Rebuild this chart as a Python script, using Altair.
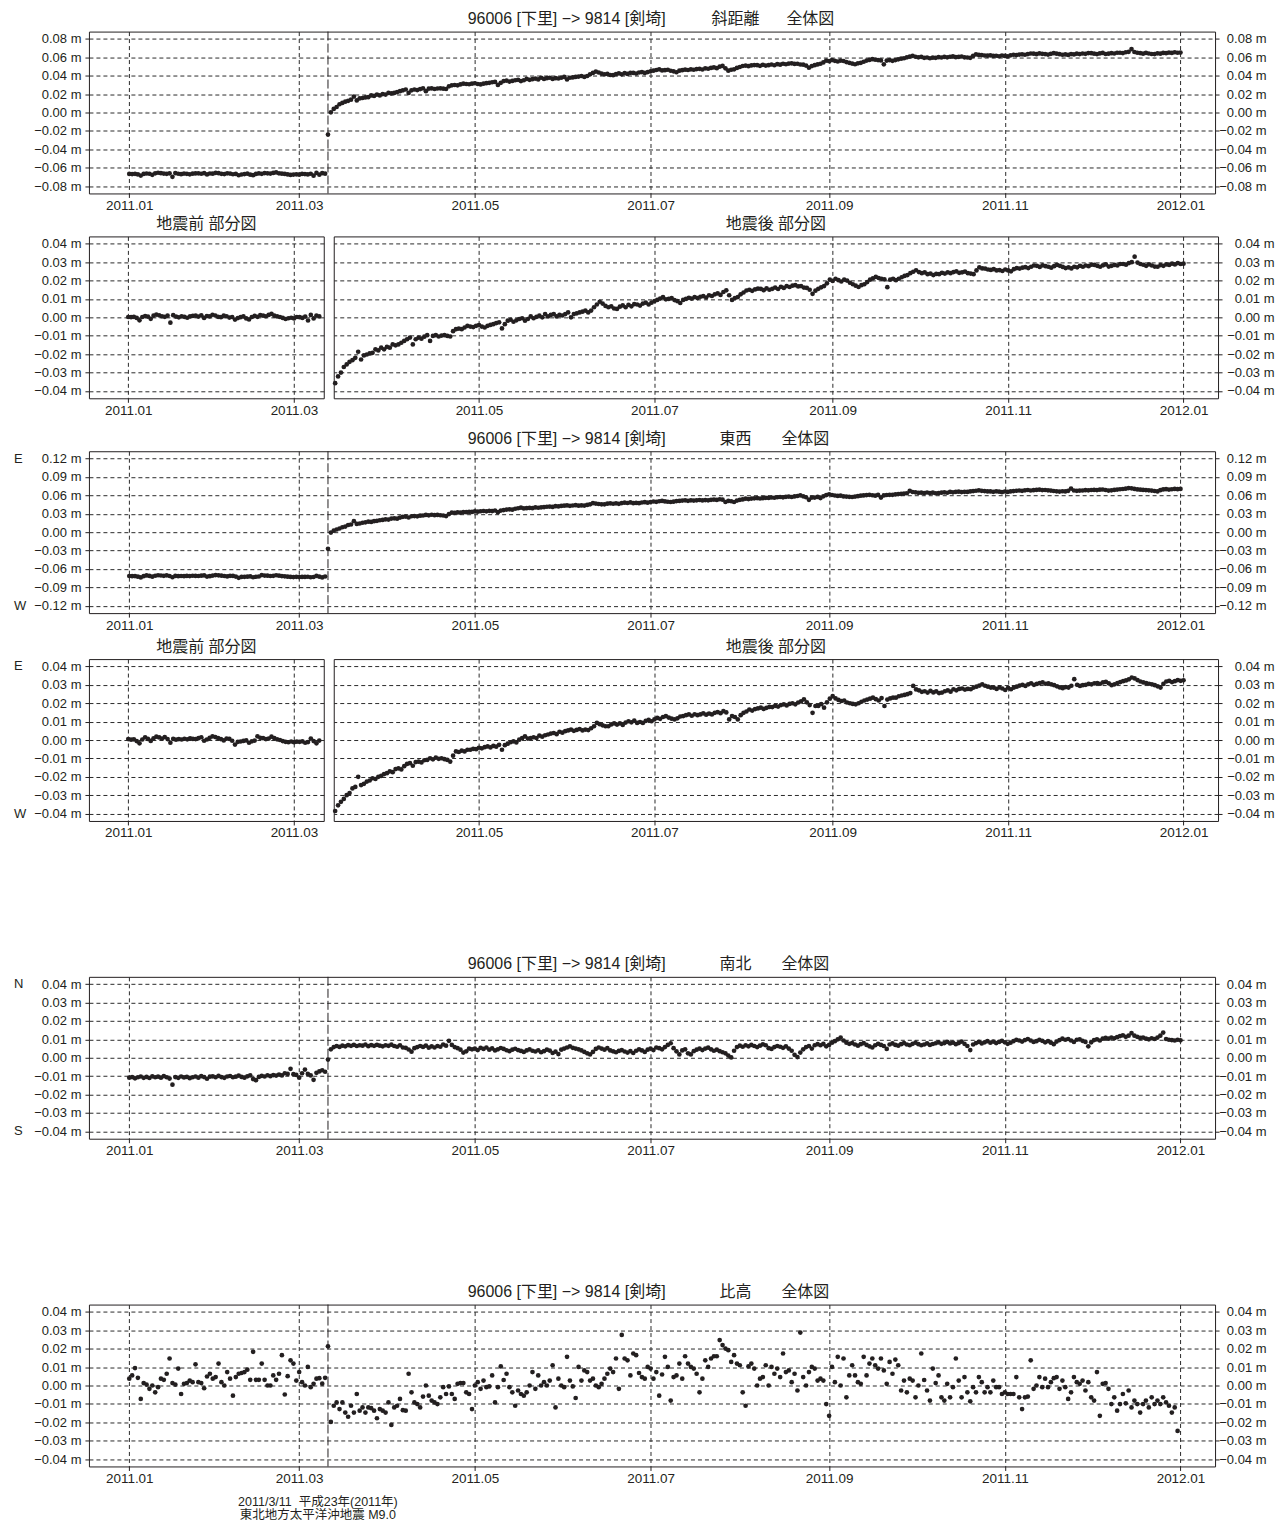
import altair as alt
import pandas as pd

# ---------------- axis / calendar data ----------------
TICK_DAYS = [0, 59, 120, 181, 243, 304, 365]          # days since 2011-01-01
TICK_LABELS = ["2011.01", "2011.03", "2011.05", "2011.07", "2011.09", "2011.11", "2012.01"]
QUAKE_DAY = 69            # 2011-03-11
PRE_START_DAY = 0         # 2011-01-01
POST_START_DAY = 70       # 2011-03-12

Y_TICKS_SLOPE = [0.08, 0.06, 0.04, 0.02, 0.0, -0.02, -0.04, -0.06, -0.08]
Y_TICKS_EW = [0.12, 0.09, 0.06, 0.03, 0.0, -0.03, -0.06, -0.09, -0.12]
Y_TICKS_SMALL = [0.04, 0.03, 0.02, 0.01, 0.0, -0.01, -0.02, -0.03, -0.04]

TITLE_BASELINE = "96006 [下里] −> 9814 [剣埼]"
TITLE_SLOPE = "斜距離"
TITLE_EW = "東西"
TITLE_NS = "南北"
TITLE_UP = "比高"
TITLE_WHOLE = "全体図"
TITLE_PRE = "地震前 部分図"
TITLE_POST = "地震後 部分図"
FOOTER_TEXT = "2011/3/11\u00a0 平成23年(2011年)\n東北地方太平洋沖地震 M9.0"

# ---------------- series values (mm) ----------------
# slope distance, relative to pre-quake level (2011-01-01 .. 2011-03-10)
SLOPE_PRE = [0.2, 0.1, 0.3, -0.3, -1.6, 0.2, 0.7, 0.4, -0.8, 0.9,
             1.5, 1.1, 0.6, 0.3, 0.9, -2.9, 1.2, 0.4, 0.0, 0.6,
             0.3, -0.2, 0.5, 0.8, 0.9, 0.4, 1.1, -0.3, 0.7, 0.5, 1.4,
             1.0, 0.3, 0.1, 0.9, 0.6, -0.1, 0.2, -1.2, -0.4, 0.1,
             0.5, -0.6, -1.1, 0.2, 0.8, 0.3, 1.2, 0.9, 0.6, 1.3,
             1.9, 0.9, 0.5, 0.2, -0.3, -0.9, -0.5, -0.2,
             -0.6, 0.2, 0.1, -0.3, 0.4, -1.7, 1.3, -0.6, 1.0, 0.5]
# slope distance, post-quake partial view (2011-03-12 .. 2012-01-01)
SLOPE_POST = [-35.8, -32.1, -30.0, -27.0, -25.6, -24.2, -23.3, -22.0, -18.7, -22.9,
              -20.7, -20.2, -19.6, -19.3, -17.4, -18.0, -16.5, -17.4, -16.0, -16.5,
              -14.7, -15.2, -14.7, -13.8, -12.8, -11.9, -11.0, -14.7, -11.9, -11.0,
              -11.6, -10.5, -9.7, -12.8, -10.1, -9.7, -10.4, -9.9, -9.7, -10.1,
              -10.4, -7.5, -6.4, -6.1, -6.4, -5.5, -4.6, -5.0, -5.3, -4.6,
              -4.2, -5.0, -5.5, -4.6, -4.1, -3.7, -3.1, -2.7, -6.0, -3.7,
              -1.8, -1.3, -2.4, -1.6, -0.9, -0.5, -1.8, -0.9, 0.5, -0.5,
              0.3, 0.9, 0.0, 1.8, 0.5, 1.3, 1.8, 0.5, 1.3, 1.0,
              1.8, 2.7, 0.0, 1.8, 2.2, 2.7, 3.1, 3.7, 2.7, 3.7,
              5.5, 7.0, 8.5, 7.5, 6.2, 5.5, 6.0, 4.8, 4.6, 5.8,
              6.5, 5.5, 6.8, 6.0, 7.2, 7.0, 6.4, 7.5, 8.0, 7.0,
              8.0, 8.8, 9.5, 10.2, 11.0, 9.8, 10.0, 10.5, 9.4, 8.8,
              7.8, 9.5, 10.0, 10.6, 10.2, 11.0, 10.5, 11.2, 11.5, 10.8,
              12.0, 11.6, 12.5, 13.0, 12.2, 13.8, 14.7, 12.0, 9.5, 10.5,
              11.0, 12.5, 13.5, 14.6, 15.0, 14.4, 15.2, 15.6, 15.5, 14.8,
              15.8, 15.0, 15.5, 16.2, 15.4, 16.6, 16.0, 17.0, 16.5, 17.2,
              17.5, 16.8, 17.0, 16.2, 16.0, 15.0, 12.8, 14.5, 15.5, 16.3,
              17.0, 18.5, 20.5, 19.8, 21.0, 20.2, 19.5, 20.5, 20.0, 18.8,
              18.0, 17.2, 16.5, 17.5, 18.0, 19.2, 20.5, 21.2, 22.0, 21.4,
              21.0, 20.6, 16.4, 20.5, 21.0, 20.2, 21.0, 21.8, 22.5, 23.0,
              24.0, 24.8, 25.6, 24.6, 24.0, 24.5, 23.5, 23.8, 23.0, 23.6,
              23.5, 24.2, 23.8, 24.5, 24.0, 24.6, 25.0, 24.2, 24.5, 24.9,
              24.0, 23.8, 23.5, 25.5, 27.2, 26.6, 26.5, 26.0, 25.8, 26.2,
              25.5, 25.7, 25.2, 26.0, 25.5, 25.0, 26.2, 26.8, 26.5, 27.0,
              27.3, 26.8, 27.5, 28.2, 28.0, 27.4, 28.3, 27.8, 27.5, 27.0,
              27.8, 28.5, 28.0, 27.4, 26.8, 27.2, 26.6, 27.5, 27.2, 28.0,
              27.5, 28.2, 27.8, 28.6, 28.5, 28.0, 27.5, 28.3, 28.8, 27.6,
              28.0, 28.5, 28.2, 29.0, 29.0, 28.6, 29.5, 30.0, 33.0, 29.8,
              29.0, 28.6, 28.0, 28.8, 28.2, 27.6, 27.5, 28.4, 28.0, 28.8,
              28.5, 29.2, 28.8, 29.5, 29.0, 29.2]
SLOPE_PRE_BASE = -67.0    # full-view level of the pre-quake partial values
SLOPE_POST_BASE = 36.0    # full-view shift of the post-quake partial values
SLOPE_QUAKE = -24.0       # 2011-03-11 solution (full view)

# east-west
EW_PRE = [0.5, 0.2, 0.4, -0.6, -1.8, 0.3, 1.5, 0.6, -0.5, 0.9,
          1.8, 1.4, 0.8, 1.6, 0.5, -1.5, 0.6, 0.2, 0.5, 0.3,
          0.7, 0.4, 0.9, 0.6, 0.5, 1.0, 1.5, -0.4, 0.3, 1.2, 2.0,
          1.6, 1.0, 0.5, -0.2, 0.8, 0.6, -0.4, -2.5, -1.0, -0.8,
          -0.5, -0.2, -1.5, -0.7, -0.3, 2.0, 1.2, 1.0, 0.5, 0.8,
          1.8, 1.0, 0.4, 0.0, -0.6, -1.0, -1.2, -0.8,
          -1.2, -0.9, -1.0, -0.7, -1.5, -1.1, 0.8, -0.6, -1.8, -0.3]
EW_POST = [-38.6, -35.5, -33.6, -32.0, -30.0, -28.8, -26.3, -25.5, -20.0, -24.5,
           -23.8, -22.6, -22.0, -20.8, -21.2, -20.0, -19.5, -18.5, -18.0, -17.0,
           -17.5, -15.8, -15.4, -16.0, -14.2, -13.0, -12.6, -14.0, -12.0, -11.7,
           -12.2, -11.0, -10.8, -9.9, -10.5, -9.6, -10.2, -9.9, -10.4, -10.8,
           -11.7, -8.5, -6.2, -6.5, -5.8, -6.2, -5.3, -5.3, -4.8, -5.0,
           -4.2, -4.5, -3.9, -3.5, -4.0, -3.2, -3.6, -2.6, -5.3, -2.8,
           -2.0, -1.2, -0.7, -1.3, 0.2, 1.0, 2.0, 0.8, 1.1, 1.5,
           1.1, 2.4, 1.8, 2.6, 3.0, 3.5, 3.8, 3.2, 4.5, 4.0,
           4.8, 5.2, 5.7, 5.0, 5.5, 6.0, 5.2, 5.7, 5.4, 6.4,
           7.5, 9.3, 8.6, 8.0, 7.5, 7.5, 8.5, 9.0, 8.4, 9.0,
           8.2, 9.5, 10.2, 9.6, 10.5, 9.3, 9.8, 9.3, 10.4, 11.0,
           10.2, 11.2, 12.0, 11.5, 12.5, 13.0, 12.2, 11.6, 11.2, 11.8,
           12.8, 13.0, 13.5, 13.9, 13.2, 14.0, 13.5, 13.9, 14.5, 13.8,
           14.4, 13.9, 14.8, 15.2, 14.6, 15.7, 15.0, 11.2, 13.0, 12.5,
           11.2, 13.5, 14.8, 15.5, 16.6, 16.0, 16.8, 17.2, 17.6, 16.9,
           17.5, 18.0, 17.9, 18.6, 18.2, 19.0, 19.4, 18.8, 19.6, 20.0,
           19.4, 20.4, 21.0, 22.1, 20.5, 19.0, 14.8, 18.5, 18.5, 19.5,
           17.6, 20.5, 22.5, 23.9, 22.6, 21.8, 21.2, 21.5, 20.4, 20.0,
           19.6, 19.4, 20.0, 20.8, 21.5, 22.0, 22.5, 23.0, 22.2, 21.5,
           22.8, 18.5, 22.0, 22.6, 23.0, 23.0, 23.8, 24.2, 24.5, 24.9,
           25.5, 29.4, 27.5, 27.0, 26.2, 26.5, 25.8, 26.7, 25.9, 26.4,
           25.5, 25.8, 26.5, 27.0, 26.3, 27.6, 27.0, 27.8, 28.0, 27.4,
           27.8, 27.6, 28.5, 29.0, 29.6, 30.3, 29.5, 29.0, 28.5, 28.5,
           27.8, 28.6, 28.0, 27.2, 28.4, 27.6, 28.5, 29.0, 29.6, 30.0,
           29.4, 30.3, 30.8, 30.0, 30.5, 31.0, 31.3, 30.6, 30.8, 30.3,
           29.8, 29.2, 28.6, 28.2, 28.8, 28.5, 29.5, 33.1, 30.0, 29.4,
           29.8, 30.0, 30.5, 30.3, 30.8, 31.0, 30.6, 31.3, 31.6, 30.8,
           29.8, 30.3, 31.0, 31.5, 32.0, 32.4, 33.0, 34.0, 33.5, 32.6,
           31.8, 31.3, 31.0, 30.6, 30.3, 29.8, 29.2, 28.5, 30.5, 31.8,
           32.2, 31.5, 32.0, 32.6, 32.2, 32.5]
EW_PRE_BASE = -72.0
EW_POST_BASE = 38.0
EW_QUAKE = -27.0

# north-south (full view)
NS_PRE = [-10.8, -10.5, -11.2, -10.6, -10.2, -10.9, -10.4, -11.0, -10.1, -10.6,
          -10.3, -10.8, -10.0, -10.6, -11.3, -14.6, -10.5, -10.9, -10.2, -10.7,
          -10.4, -11.1, -10.6, -10.2, -10.8, -10.0, -10.5, -11.4, -10.3, -10.1, -10.6,
          -9.8, -10.5, -10.9, -10.2, -9.9, -10.6, -10.3, -9.7, -10.4, -10.8,
          -10.1, -9.6, -11.6, -12.2, -10.4, -9.8, -10.2, -9.5, -10.0, -9.4,
          -9.7, -9.1, -9.6, -8.4, -8.8, -6.0, -8.9, -9.3,
          -10.8, -8.4, -6.4, -8.8, -9.6, -12.0, -8.2, -7.4, -6.8, -7.6]
NS_POST = [4.6, 5.8, 6.4, 5.9, 6.6, 6.2, 6.9, 6.5, 7.0, 6.4,
           6.8, 6.6, 7.2, 6.3, 6.9, 6.5, 7.0, 6.6, 6.2, 6.8,
           6.5, 7.1, 6.4, 6.0, 6.8, 5.6, 5.4, 4.5, 3.3, 5.2,
           5.8, 6.4, 5.9, 6.6, 5.5, 6.2, 5.6, 6.4, 6.0, 7.2,
           6.6, 9.2, 7.0, 5.8, 5.2, 4.4, 2.8, 3.5, 5.0, 4.6,
           5.0, 4.2, 5.4, 4.8, 5.6, 4.4, 5.1, 4.0, 4.6, 5.3,
           4.8, 4.1, 3.6, 4.4, 4.9, 4.2, 3.7, 3.2, 4.0, 4.6,
           3.8, 3.4, 4.1, 3.0, 3.6, 4.4, 3.9, 2.6, 3.3, 2.0,
           4.4, 5.0, 5.6, 6.2, 5.4, 5.0, 4.6, 4.0, 3.2, 2.4,
           1.8, 3.2, 4.8, 5.6, 5.0, 4.4, 5.2, 4.0, 3.5, 3.0,
           3.7, 4.2, 3.4, 2.8, 3.6, 2.6, 3.8, 4.6, 4.0, 3.2,
           4.4, 5.0, 4.2, 5.6, 5.2, 4.6, 5.8, 7.0, 7.9, 5.2,
           3.5, 1.8, 4.0, 4.6, 2.4, 1.8, 3.6, 4.4, 5.0, 4.2,
           5.0, 5.5, 4.6, 3.8, 4.4, 3.6, 3.0, 2.4, 1.2, 0.2,
           3.8, 5.8, 6.6, 6.0, 6.8, 6.2, 7.0, 6.4, 5.8, 6.6,
           7.3, 6.8, 5.2, 4.8, 5.8, 6.4, 6.0, 5.4, 6.2, 5.0,
           3.8, 1.6, 0.4, 2.8, 4.6, 5.8, 6.4, 5.0, 6.8, 7.4,
           6.8, 7.6, 6.2, 7.0, 8.2, 9.0, 10.0, 11.0, 9.4, 8.2,
           7.6, 8.0, 7.2, 6.6, 7.4, 8.0, 7.0, 6.2, 5.6, 6.8,
           7.6, 7.0, 6.4, 4.8, 7.2, 7.8, 7.0, 6.6, 7.4, 8.0,
           7.2, 6.8, 7.6, 8.2, 7.4, 6.8, 7.2, 7.8, 7.0, 7.5,
           7.9, 8.4, 7.6, 8.0, 8.6, 7.8, 8.2, 7.4, 8.0, 8.8,
           7.6, 6.4, 4.2, 7.2, 8.0, 8.6, 7.8, 8.4, 9.0, 8.2,
           8.8, 8.0, 8.6, 9.2, 8.4, 7.6, 8.2, 9.0, 9.8, 9.4,
           8.8, 9.6, 10.2, 9.4, 8.6, 9.0, 9.8, 9.2, 8.4, 9.0,
           8.2, 7.4, 8.8, 9.6, 10.4, 9.8, 10.2, 9.4, 8.6, 9.8,
           10.0, 9.2, 8.6, 6.2, 8.4, 9.6, 10.0, 9.4, 10.4, 10.8,
           10.4, 11.0, 10.6, 11.2, 11.8, 12.2, 11.4, 12.0, 13.4, 12.0,
           11.4, 10.8, 11.0, 10.4, 10.0, 10.6, 10.2, 11.0, 12.0, 13.7,
           10.2, 9.8, 9.6, 9.4, 9.8, 9.5]
NS_QUAKE = -1.0

# relative height (full view)
UP_PRE = [3.7, 5.5, 9.5, 4.2, -7.3, 1.3, 0.5, -1.8, 0.0, -3.7,
          -0.9, 3.7, 3.1, 6.4, 14.7, 1.3, 0.5, 9.2, -4.6, 0.9,
          1.3, 2.7, 1.8, 11.5, 1.8, 1.3, -1.5, 4.9, 6.4, 3.7,
          4.6, 11.9, 1.8, 0.0, 7.3, 3.7, -5.5, 4.6, 6.4, 6.8,
          7.3, 8.6, 3.1, 18.3, 3.1, 3.1, 11.9, 3.1, 0.0, 0.0,
          5.5, 3.1, 6.4, 16.5, -4.9, 5.1, 13.7, 11.9, 2.7, 7.3,
          1.8, 0.0, 10.1, -0.9, 0.9, 3.7, 4.0, 1.0, 4.2]
UP_POST = [-19.8, -11.0, -9.2, -12.8, -9.2, -14.7, -17.0, -11.0, -14.7, -4.6,
           -13.7, -11.9, -14.7, -11.9, -12.3, -13.7, -17.8, -12.8, -13.7, -14.7,
           -9.2, -21.4, -11.9, -11.0, -7.3, -13.4, -13.7, 6.4, -3.7, -9.2,
           -10.1, -11.9, -6.0, 0.0, -5.5, -8.2, -9.2, -10.1, -6.4, -0.9,
           -4.6, -0.5, -4.6, -7.3, 0.9, 1.3, 1.3, -3.7, -4.6, -12.8,
           0.0, 1.8, -1.8, 2.7, -0.9, -0.5, 5.5, -9.2, -0.9, 10.4,
           3.0, 6.4, -0.9, -3.7, -11.0, -2.7, -4.6, -5.5, -3.7, 0.0,
           7.3, -1.8, 5.5, 0.0, 1.8, 0.0, 2.7, 11.0, -11.9, 3.7,
           0.0, -0.9, 15.6, 2.7, -0.5, -6.8, 10.1, 2.7, 8.2, 7.3,
           2.7, 3.7, 0.0, -0.9, 0.9, 3.7, 6.4, 9.2, 7.3, 14.7,
           -1.8, 27.5, 14.7, 13.7, 5.5, 17.4, 16.5, 6.8, 4.6, 3.7,
           10.1, 9.2, 3.7, 7.3, -5.5, 6.0, 15.6, 10.1, -8.2, 4.6,
           5.5, 11.9, 3.7, 15.9, 11.9, 10.1, 9.2, 6.4, -3.7, 3.7,
           13.7, 10.1, 14.7, 15.9, 15.9, 24.7, 22.0, 20.1, 19.2, 12.8,
           16.5, 11.9, 11.0, -3.7, -11.0, 10.4, 11.9, 9.2, 0.0, 3.7,
           4.6, 11.0, 0.0, 10.1, 6.4, 9.2, 4.6, 17.4, 7.3, 8.2,
           1.8, 6.4, -2.7, 28.8, 4.6, 0.0, 7.3, 10.1, 9.2, 2.7,
           3.7, 2.7, -10.1, -16.5, 10.1, 1.8, 15.6, 0.0, 14.7, -6.4,
           5.5, 11.0, 5.5, 1.8, 0.9, 15.6, 5.5, 11.9, 14.7, 11.0,
           9.2, 14.7, 8.2, 0.9, 12.8, 6.4, 14.1, 11.0, -2.7, 2.7,
           -3.7, 3.7, 2.7, -6.4, 0.0, 17.4, 3.0, -2.7, -8.2, 9.2,
           1.3, 5.5, -6.4, -8.2, 0.9, -6.4, -0.9, 14.7, 2.7, -6.4,
           4.6, -3.7, -8.6, -0.9, -3.7, 4.6, 1.8, -3.7, -0.9, -3.7,
           2.7, -0.9, -0.9, -4.6, -3.7, -4.6, -4.6, -4.6, 4.6, -6.4,
           -12.8, -6.4, -6.0, 13.7, -1.8, 0.0, 4.6, -0.9, 3.7, -0.9,
           1.8, 4.0, 4.6, -1.8, 2.7, -0.9, -7.3, -3.7, 4.6, 1.8,
           0.9, 2.7, -2.7, 1.8, -6.4, -8.2, 7.3, -16.5, 0.9, 1.3,
           -1.8, -10.1, -6.4, -13.7, -10.1, -4.6, -9.7, -2.7, -11.9, -8.2,
           -10.1, -14.7, -10.1, -8.2, -11.9, -6.4, -10.1, -8.2, -10.1, -6.4,
           -9.2, -11.0, -14.7, -11.9, -24.7]
UP_QUAKE = 21.3

# ---------------- styling ----------------
FONT = "Liberation Sans, Noto Sans CJK JP, sans-serif"
INK = "#231f20"
GRID = "#2a2a2a"
H = 162
W_FULL = 1127
W_PRE = 235
W_POST = 885
FULL_DOM = [-14, 377]
PRE_DOM = [-14, 69.6]
POST_DOM = [69.5, 377]
DOM_SLOPE = [-0.088, 0.088]
DOM_EW = [-0.132, 0.132]
DOM_SMALL = [-0.044, 0.044]
FOOTER_DAY = 65.5
TITLE_Y = -12.5


def series(pre, post, pre_base=0.0, post_base=0.0, quake=None):
    rows = [(PRE_START_DAY + i, (v + pre_base) / 1000.0) for i, v in enumerate(pre)]
    if quake is not None:
        rows.append((QUAKE_DAY, quake / 1000.0))
    rows += [(POST_START_DAY + i, (v + post_base) / 1000.0) for i, v in enumerate(post)]
    return pd.DataFrame(rows, columns=["day", "v"])


def make_x(dom):
    vals = [d for d in TICK_DAYS if dom[0] <= d <= dom[1]]
    expr = "''"
    for d, lab in zip(reversed(TICK_DAYS), reversed(TICK_LABELS)):
        expr = f"datum.value == {d} ? '{lab}' : ({expr})"
    ax = alt.Axis(values=vals, labelExpr=expr, title=None, grid=True, gridDash=[4, 3],
                  gridColor=GRID, gridWidth=1, domain=False, ticks=True, tickSize=4,
                  tickColor=INK, labelPadding=1, labelFontSize=13.5, labelColor=INK,
                  labelFont=FONT, labelFlush=False, labelOverlap=False)
    return alt.X("day:Q", scale=alt.Scale(domain=dom, nice=False, zero=False), axis=ax)


YEXPR = "(datum.value < 0 ? '\u2212' : '') + format(abs(datum.value), '.2f') + ' m'"


def make_y(dom, ticks, orient, grid, right_pad=47):
    pad = 4 if orient == "left" else right_pad
    ax = alt.Axis(values=ticks, orient=orient, labelExpr=YEXPR, title=None, grid=grid,
                  gridDash=[4, 3], gridColor=GRID, gridWidth=1, domain=False,
                  ticks=True, tickSize=4, tickColor=INK, labelPadding=pad,
                  labelAlign="right", labelFontSize=13, labelColor=INK, labelFont=FONT,
                  labelFlush=False, labelOverlap=False)
    return alt.Y("v:Q", scale=alt.Scale(domain=dom, nice=False, zero=False), axis=ax)


ONE = pd.DataFrame({"a": [0]})


def text_at(txt, x, align, size=16):
    return (alt.Chart(ONE).mark_text(align=align, baseline="middle", fontSize=size,
                                     font=FONT, color=INK)
            .encode(x=alt.value(x), y=alt.value(TITLE_Y), text=alt.value(txt)))


def panel(df, width, xdom, ydom, yticks, titles, left=True, right=True, quake=False,
          letters=None, bottom_gap=None, footer=False, right_pad=47):
    X = make_x(xdom)
    layers = []
    if left:
        layers.append(alt.Chart(df).mark_circle(size=22, color=INK, opacity=1)
                      .encode(x=X, y=make_y(ydom, yticks, "left", True)))
        if right:
            layers.append(alt.Chart(df).mark_circle(size=22, color=INK, opacity=0)
                          .encode(x=X, y=make_y(ydom, yticks, "right", False, right_pad)))
    else:
        layers.append(alt.Chart(df).mark_circle(size=22, color=INK, opacity=1)
                      .encode(x=X, y=make_y(ydom, yticks, "right", True, right_pad)))
    if quake:
        layers.append(alt.Chart(pd.DataFrame({"day": [QUAKE_DAY]}))
                      .mark_rule(color=INK, strokeDash=[9, 3], strokeWidth=1)
                      .encode(x=X))
    if letters:
        ldf = pd.DataFrame({"v": [yticks[0], yticks[-1]], "t": letters})
        layers.append(alt.Chart(ldf).mark_text(align="left", baseline="middle", fontSize=13,
                                               font=FONT, color=INK)
                      .encode(x=alt.value(-75),
                              y=alt.Y("v:Q", scale=alt.Scale(domain=ydom, nice=False, zero=False), axis=None),
                              text="t:N"))
    for txt, x, align in titles:
        layers.append(text_at(txt, x, align))
    if bottom_gap:
        layers.append(alt.Chart(ONE).mark_rule(color="transparent")
                      .encode(x=alt.value(0), y=alt.value(H), y2=alt.value(H + bottom_gap)))
    if footer:
        layers.append(alt.Chart(pd.DataFrame({"day": [FOOTER_DAY], "t": [FOOTER_TEXT]}))
                      .mark_text(lineBreak="\n", align="center", baseline="top", fontSize=12.5,
                                 lineHeight=13, font=FONT, color=INK)
                      .encode(x=X, y=alt.value(H + 30), text="t:N"))
    ch = alt.layer(*layers).properties(width=width, height=H)
    if (left and right) or letters:
        ch = ch.resolve_scale(y="independent")
    return ch


def full_titles(name):
    whole_x = 698 if len(name) >= 3 else 693
    return [(TITLE_BASELINE, 379, "left"), (name, 647, "center"), (TITLE_WHOLE, whole_x, "left")]


slope_full = series(SLOPE_PRE, SLOPE_POST, SLOPE_PRE_BASE, SLOPE_POST_BASE, SLOPE_QUAKE)
slope_pre = series(SLOPE_PRE, [])
slope_post = series([], SLOPE_POST)
ew_full = series(EW_PRE, EW_POST, EW_PRE_BASE, EW_POST_BASE, EW_QUAKE)
ew_pre = series(EW_PRE, [])
ew_post = series([], EW_POST)
ns_full = series(NS_PRE, NS_POST, 0.0, 0.0, NS_QUAKE)
up_full = series(UP_PRE, UP_POST, 0.0, 0.0, UP_QUAKE)

PRE_T = [(TITLE_PRE, W_PRE / 2, "center")]
POST_T = [(TITLE_POST, W_POST / 2, "center")]
POST_PAD = 52

r1 = panel(slope_full, W_FULL, FULL_DOM, DOM_SLOPE, Y_TICKS_SLOPE, full_titles(TITLE_SLOPE),
           quake=True, bottom_gap=21)
r2 = alt.hconcat(
    panel(slope_pre, W_PRE, PRE_DOM, DOM_SMALL, Y_TICKS_SMALL, PRE_T, right=False, bottom_gap=31),
    panel(slope_post, W_POST, POST_DOM, DOM_SMALL, Y_TICKS_SMALL, POST_T, left=False, right_pad=POST_PAD),
    spacing=7)
r3 = panel(ew_full, W_FULL, FULL_DOM, DOM_EW, Y_TICKS_EW, full_titles(TITLE_EW), quake=True,
           letters=["E", "W"], bottom_gap=24)
r4 = alt.hconcat(
    panel(ew_pre, W_PRE, PRE_DOM, DOM_SMALL, Y_TICKS_SMALL, PRE_T, right=False,
          letters=["E", "W"], bottom_gap=134),
    panel(ew_post, W_POST, POST_DOM, DOM_SMALL, Y_TICKS_SMALL, POST_T, left=False, right_pad=POST_PAD),
    spacing=7)
r5 = panel(ns_full, W_FULL, FULL_DOM, DOM_SMALL, Y_TICKS_SMALL, full_titles(TITLE_NS), quake=True,
           letters=["N", "S"], bottom_gap=144)
r6 = panel(up_full, W_FULL, FULL_DOM, DOM_SMALL, Y_TICKS_SMALL, full_titles(TITLE_UP), quake=True,
           footer=True)

chart = (alt.vconcat(r1, r2, r3, r4, r5, r6, spacing=0)
         .properties(padding={"left": 5, "top": 2, "right": 0, "bottom": 0})
         .configure(font=FONT)
         .configure_view(stroke=INK, strokeWidth=1))

chart.save("out.html", embed_options={"renderer": "svg", "actions": False})
